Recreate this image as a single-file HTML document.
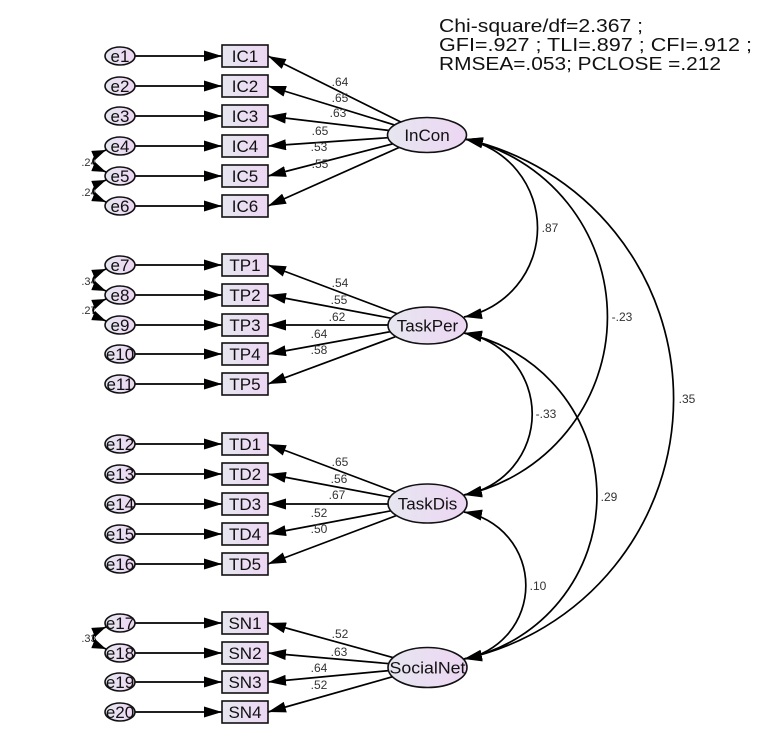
<!DOCTYPE html>
<html><head><meta charset="utf-8"><style>
html,body{margin:0;padding:0;background:#fff;}
svg{display:block;}
text{font-family:"Liberation Sans",Arial,sans-serif;}
.lb{font-size:12px;fill:#333;text-anchor:middle;}
.nd{font-size:17px;fill:#111;text-anchor:middle;}
.ln{stroke:#000;stroke-width:1.7;fill:none;}
.sh{fill:url(#g);stroke:#111;stroke-width:1.6;}
</style></head><body>
<svg width="770" height="747" viewBox="0 0 770 747" xmlns="http://www.w3.org/2000/svg">
<defs>
<linearGradient id="g" x1="0" x2="1" y1="0" y2="0"><stop offset="0" stop-color="#e6e6f0"/><stop offset="1" stop-color="#edd6f3"/></linearGradient>
<marker id="ah" markerWidth="19" markerHeight="11" refX="18" refY="5.5" orient="auto-start-reverse" markerUnits="userSpaceOnUse"><path d="M0,0 L18,5.5 L0,11 z" fill="#000"/></marker>
<marker id="as" markerWidth="15" markerHeight="10" refX="14" refY="5" orient="auto-start-reverse" markerUnits="userSpaceOnUse"><path d="M0,0 L14,5 L0,10 z" fill="#000"/></marker>
</defs>

<!-- fit text -->
<text x="439" y="32" font-size="18.5" fill="#111" textLength="204" lengthAdjust="spacingAndGlyphs">Chi-square/df=2.367 ;</text>
<text x="439" y="51" font-size="18.5" fill="#111" textLength="313" lengthAdjust="spacingAndGlyphs">GFI=.927 ; TLI=.897 ; CFI=.912 ;</text>
<text x="439" y="70" font-size="18.5" fill="#111" textLength="282" lengthAdjust="spacingAndGlyphs">RMSEA=.053; PCLOSE =.212</text>

<!-- covariance arcs on right -->
<path class="ln" d="M465,139 A90.75,90.75 0 0 1 464,317" marker-start="url(#ah)" marker-end="url(#ah)"/>
<path class="ln" d="M465,139 A182.3,182.3 0 0 1 464,495" marker-start="url(#ah)" marker-end="url(#ah)"/>
<path class="ln" d="M465,139 A266.2,266.2 0 0 1 464,659" marker-start="url(#ah)" marker-end="url(#ah)"/>
<path class="ln" d="M464,333 A82.2,82.2 0 0 1 464,495" marker-start="url(#ah)" marker-end="url(#ah)"/>
<path class="ln" d="M464,333 A166.4,166.4 0 0 1 464,659" marker-start="url(#ah)" marker-end="url(#ah)"/>
<path class="ln" d="M464,512 A74.6,74.6 0 0 1 464,659" marker-start="url(#ah)" marker-end="url(#ah)"/>

<text class="lb" x="550" y="232">.87</text>
<text class="lb" x="622" y="321">-.23</text>
<text class="lb" x="687" y="403">.35</text>
<text class="lb" x="546" y="418">-.33</text>
<text class="lb" x="609" y="501">.29</text>
<text class="lb" x="538" y="590">.10</text>

<!-- loading lines -->
<g class="ln" marker-end="url(#ah)">
<line x1="427" y1="135" x2="268" y2="56"/>
<line x1="427" y1="135" x2="268" y2="86"/>
<line x1="427" y1="135" x2="268" y2="116"/>
<line x1="427" y1="135" x2="268" y2="146"/>
<line x1="427" y1="135" x2="268" y2="176"/>
<line x1="427" y1="135" x2="268" y2="206"/>

<line x1="427" y1="325" x2="268" y2="265"/>
<line x1="427" y1="325" x2="268" y2="295"/>
<line x1="427" y1="325" x2="268" y2="325"/>
<line x1="427" y1="325" x2="268" y2="354"/>
<line x1="427" y1="325" x2="268" y2="384"/>

<line x1="427" y1="504" x2="268" y2="444"/>
<line x1="427" y1="504" x2="268" y2="474"/>
<line x1="427" y1="504" x2="268" y2="504"/>
<line x1="427" y1="504" x2="268" y2="534"/>
<line x1="427" y1="504" x2="268" y2="564"/>

<line x1="427" y1="667" x2="268" y2="623"/>
<line x1="427" y1="667" x2="268" y2="653"/>
<line x1="427" y1="667" x2="268" y2="682"/>
<line x1="427" y1="667" x2="268" y2="712"/>
</g>

<!-- error arrows -->
<g class="ln" marker-end="url(#ah)">
<line x1="120" y1="56" x2="222" y2="56"/>
<line x1="120" y1="86" x2="222" y2="86"/>
<line x1="120" y1="116" x2="222" y2="116"/>
<line x1="120" y1="146" x2="222" y2="146"/>
<line x1="120" y1="176" x2="222" y2="176"/>
<line x1="120" y1="206" x2="222" y2="206"/>
<line x1="120" y1="265" x2="222" y2="265"/>
<line x1="120" y1="295" x2="222" y2="295"/>
<line x1="120" y1="325" x2="222" y2="325"/>
<line x1="120" y1="354" x2="222" y2="354"/>
<line x1="120" y1="384" x2="222" y2="384"/>
<line x1="120" y1="444" x2="222" y2="444"/>
<line x1="120" y1="474" x2="222" y2="474"/>
<line x1="120" y1="504" x2="222" y2="504"/>
<line x1="120" y1="534" x2="222" y2="534"/>
<line x1="120" y1="564" x2="222" y2="564"/>
<line x1="120" y1="623" x2="222" y2="623"/>
<line x1="120" y1="653" x2="222" y2="653"/>
<line x1="120" y1="682" x2="222" y2="682"/>
<line x1="120" y1="712" x2="222" y2="712"/>
</g>

<!-- loading labels -->
<text class="lb" x="340" y="86">.64</text>
<text class="lb" x="340" y="102">.65</text>
<text class="lb" x="338" y="117">.63</text>
<text class="lb" x="320" y="135">.65</text>
<text class="lb" x="319" y="151">.53</text>
<text class="lb" x="320" y="168">.55</text>

<text class="lb" x="340" y="287">.54</text>
<text class="lb" x="339" y="304">.55</text>
<text class="lb" x="337" y="321">.62</text>
<text class="lb" x="319" y="338">.64</text>
<text class="lb" x="319" y="354">.58</text>

<text class="lb" x="340" y="466">.65</text>
<text class="lb" x="339" y="483">.56</text>
<text class="lb" x="337" y="499">.67</text>
<text class="lb" x="319" y="517">.52</text>
<text class="lb" x="319" y="533">.50</text>

<text class="lb" x="340" y="638">.52</text>
<text class="lb" x="339" y="656">.63</text>
<text class="lb" x="319" y="672">.64</text>
<text class="lb" x="319" y="689">.52</text>

<!-- error covariance labels (partially hidden) -->
<text class="lb" x="89" y="166" style="font-size:11px">.24</text>
<text class="lb" x="89" y="196" style="font-size:11px">.24</text>
<text class="lb" x="89" y="285" style="font-size:11px">.34</text>
<text class="lb" x="89" y="314" style="font-size:11px">.27</text>
<text class="lb" x="89" y="642" style="font-size:11px">.33</text>

<!-- error covariance arcs -->
<g class="ln" marker-start="url(#as)" marker-end="url(#as)">
<path d="M106,150 Q80,161 106,172"/>
<path d="M106,180 Q80,191 106,202"/>
<path d="M106,269 Q80,280 106,291"/>
<path d="M106,299 Q80,310 106,321"/>
<path d="M106,627 Q80,638 106,649"/>
</g>

<!-- boxes -->
<g class="sh">
<rect x="222" y="45" width="46" height="22"/>
<rect x="222" y="75" width="46" height="22"/>
<rect x="222" y="105" width="46" height="22"/>
<rect x="222" y="135" width="46" height="22"/>
<rect x="222" y="165" width="46" height="22"/>
<rect x="222" y="195" width="46" height="22"/>
<rect x="222" y="254" width="46" height="22"/>
<rect x="222" y="284" width="46" height="22"/>
<rect x="222" y="314" width="46" height="22"/>
<rect x="222" y="343" width="46" height="22"/>
<rect x="222" y="373" width="46" height="22"/>
<rect x="222" y="433" width="46" height="22"/>
<rect x="222" y="463" width="46" height="22"/>
<rect x="222" y="493" width="46" height="22"/>
<rect x="222" y="523" width="46" height="22"/>
<rect x="222" y="553" width="46" height="22"/>
<rect x="222" y="612" width="46" height="22"/>
<rect x="222" y="642" width="46" height="22"/>
<rect x="222" y="671" width="46" height="22"/>
<rect x="222" y="701" width="46" height="22"/>
</g>
<g class="nd">
<text x="245" y="62">IC1</text>
<text x="245" y="92">IC2</text>
<text x="245" y="122">IC3</text>
<text x="245" y="152">IC4</text>
<text x="245" y="182">IC5</text>
<text x="245" y="212">IC6</text>
<text x="245" y="271">TP1</text>
<text x="245" y="301">TP2</text>
<text x="245" y="331">TP3</text>
<text x="245" y="360">TP4</text>
<text x="245" y="390">TP5</text>
<text x="245" y="450">TD1</text>
<text x="245" y="480">TD2</text>
<text x="245" y="510">TD3</text>
<text x="245" y="540">TD4</text>
<text x="245" y="570">TD5</text>
<text x="245" y="629">SN1</text>
<text x="245" y="659">SN2</text>
<text x="245" y="688">SN3</text>
<text x="245" y="718">SN4</text>
</g>

<!-- error ellipses -->
<g class="sh">
<ellipse cx="120" cy="56" rx="15" ry="9"/>
<ellipse cx="120" cy="86" rx="15" ry="9"/>
<ellipse cx="120" cy="116" rx="15" ry="9"/>
<ellipse cx="120" cy="146" rx="15" ry="9"/>
<ellipse cx="120" cy="176" rx="15" ry="9"/>
<ellipse cx="120" cy="206" rx="15" ry="9"/>
<ellipse cx="120" cy="265" rx="15" ry="9"/>
<ellipse cx="120" cy="295" rx="15" ry="9"/>
<ellipse cx="120" cy="325" rx="15" ry="9"/>
<ellipse cx="120" cy="354" rx="15" ry="9"/>
<ellipse cx="120" cy="384" rx="15" ry="9"/>
<ellipse cx="120" cy="444" rx="15" ry="9"/>
<ellipse cx="120" cy="474" rx="15" ry="9"/>
<ellipse cx="120" cy="504" rx="15" ry="9"/>
<ellipse cx="120" cy="534" rx="15" ry="9"/>
<ellipse cx="120" cy="564" rx="15" ry="9"/>
<ellipse cx="120" cy="623" rx="15" ry="9"/>
<ellipse cx="120" cy="653" rx="15" ry="9"/>
<ellipse cx="120" cy="682" rx="15" ry="9"/>
<ellipse cx="120" cy="712" rx="15" ry="9"/>
</g>
<g class="nd">
<text x="120" y="62">e1</text>
<text x="120" y="92">e2</text>
<text x="120" y="122">e3</text>
<text x="120" y="152">e4</text>
<text x="120" y="182">e5</text>
<text x="120" y="212">e6</text>
<text x="120" y="271">e7</text>
<text x="120" y="301">e8</text>
<text x="120" y="331">e9</text>
<text x="120" y="360">e10</text>
<text x="120" y="390">e11</text>
<text x="120" y="450">e12</text>
<text x="120" y="480">e13</text>
<text x="120" y="510">e14</text>
<text x="120" y="540">e15</text>
<text x="120" y="570">e16</text>
<text x="120" y="629">e17</text>
<text x="120" y="659">e18</text>
<text x="120" y="688">e19</text>
<text x="120" y="718">e20</text>
</g>

<!-- latent ellipses -->
<g class="sh">
<ellipse cx="427" cy="135" rx="39.5" ry="17.5"/>
<ellipse cx="427.5" cy="325.5" rx="39.5" ry="18.5"/>
<ellipse cx="427.5" cy="503.5" rx="39.5" ry="19.5"/>
<ellipse cx="427.5" cy="667.5" rx="39.5" ry="20"/>
</g>
<g class="nd">
<text x="427" y="141">InCon</text>
<text x="427.5" y="331.5">TaskPer</text>
<text x="427.5" y="509.5">TaskDis</text>
<text x="427.5" y="673.5" textLength="76" lengthAdjust="spacingAndGlyphs">SocialNet</text>
</g>
</svg>
</body></html>
